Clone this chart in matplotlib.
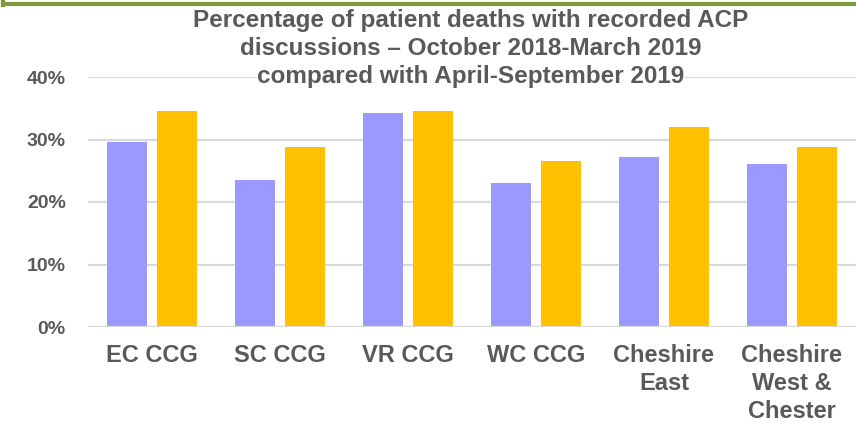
"""
Percentage of patient deaths with recorded ACP discussions by CCG,
October 2018-March 2019 against April-September 2019.
"""

import numpy as np
import matplotlib.pyplot as plt
from matplotlib.lines import Line2D
from matplotlib.ticker import PercentFormatter

# Data

CATEGORIES = ["EC CCG", "SC CCG", "VR CCG", "WC CCG", "Cheshire\nEast", "Cheshire\nWest &\nChester"]
OCT18_MAR19 = [29.6, 23.5, 34.2, 23.0, 27.2, 26.1]
APR19_SEP19 = [34.6, 28.8, 34.6, 26.6, 32.0, 28.8]
Y_TICKS = [0, 10, 20, 30, 40]

TITLE_LINES = [
    "Percentage of patient deaths with recorded ACP",
    "discussions \u2013 October 2018-March 2019",
    "compared with April-September 2019",
]

# Style

PURPLE = "#9999FF"
ORANGE = "#FFC000"
TEXT_GREY = "#595959"
GRID_GREY = "#D9D9D9"
BORDER_GREEN = "#7E9A3D"

plt.rcParams["font.family"] = ["Liberation Sans", "DejaVu Sans"]
plt.rcParams["font.weight"] = "bold"


def main():
    fig = plt.figure(figsize=(8.56, 4.25), dpi=100)
    ax = fig.add_axes([88 / 856, 1 - 327 / 425, 1 - 88 / 856, (327 - 77) / 425])

    x = np.arange(len(CATEGORIES))
    width = 0.3125
    offset = 0.195
    ax.bar(x - offset, OCT18_MAR19, width, color=PURPLE, zorder=3)
    ax.bar(x + offset, APR19_SEP19, width, color=ORANGE, zorder=3)

    ax.set_xlim(-0.5, len(CATEGORIES) - 0.5)
    ax.set_ylim(0, 40)
    ax.set_yticks(Y_TICKS)
    ax.yaxis.set_major_formatter(PercentFormatter(decimals=0))
    ax.set_xticks(x)
    ax.set_xticklabels(CATEGORIES, fontsize=17, color=TEXT_GREY, linespacing=1.3)
    ax.tick_params(axis="x", length=0, pad=12)
    ax.tick_params(axis="y", length=0, pad=16, labelsize=14, labelcolor=TEXT_GREY)

    ax.grid(axis="y", color=GRID_GREY, linewidth=1.5, zorder=0)
    for side in ["top", "right", "left", "bottom"]:
        ax.spines[side].set_visible(False)
    ax.axhline(0, color=GRID_GREY, linewidth=1.5, zorder=4)

    # title lines, the last one sits over the 40% gridline
    for i, line in enumerate(TITLE_LINES):
        fig.text(471 / 856, 1 - (27 + 28 * i) / 425, line, ha="center", va="baseline",
                 fontsize=17.5, color=TEXT_GREY, zorder=5,
                 bbox=dict(facecolor="white", edgecolor="none", pad=0.5) if i == 2 else None)

    # green frame cut off at the top of the slide
    fig.add_artist(Line2D([3.5 / 856, 1], [1 - 3.5 / 425] * 2, color=BORDER_GREEN, linewidth=3))
    fig.add_artist(Line2D([3.5 / 856] * 2, [1, 1 - 5 / 425], color=BORDER_GREEN, linewidth=3))

    fig.savefig("out.png", dpi=100)
    plt.close(fig)


if __name__ == "__main__":
    main()
